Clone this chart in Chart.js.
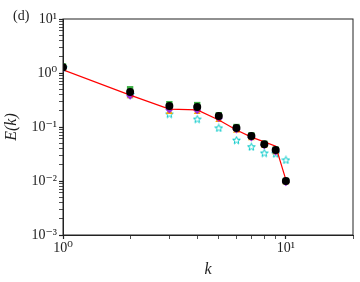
<!DOCTYPE html>
<html>
<head>
<meta charset="utf-8">
<script src="https://cdn.jsdelivr.net/npm/chart.js@4/dist/chart.umd.min.js"></script>
<style>
  html, body { margin: 0; padding: 0; background: #fff; }
  #wrap { width: 360px; height: 282px; }
</style>
</head>
<body>
<div id="wrap"><canvas id="grafico"></canvas></div>
<script>
// wavenumbers and spectra
const ks = [1, 2, 3, 4, 5, 6, 7, 8, 9, 10];
const linhaVermelha = [1.14, 0.39, 0.215, 0.207, 0.135, 0.088, 0.065, 0.053, 0.044, 0.0105];
const pretos   = [1.28, 0.445, 0.245, 0.235, 0.16, 0.096, 0.068, 0.048, 0.0375, 0.0100];
const verdes   = [1.32, 0.50, 0.265, 0.255, 0.165, 0.100, 0.070, 0.049, 0.038, 0.0100];
const roxos    = [1.22, 0.38, 0.21, 0.205, 0.145, 0.090, 0.064, 0.046, 0.035, 0.0095];
const laranjas = [1.20, 0.37, 0.19, 0.19, 0.135, 0.085, 0.062, 0.045, 0.034, 0.0095];
const cianos   = [1.25, 0.40, 0.174, 0.140, 0.096, 0.057, 0.043, 0.033, 0.032, 0.0245];
const ticksX = [1, 2, 3, 4, 5, 6, 7, 8, 9, 10, 20];
const ticksY = [0.001, 0.002, 0.003, 0.004, 0.005, 0.006, 0.007, 0.008, 0.009,
                0.01, 0.02, 0.03, 0.04, 0.05, 0.06, 0.07, 0.08, 0.09,
                0.1, 0.2, 0.3, 0.4, 0.5, 0.6, 0.7, 0.8, 0.9,
                1, 2, 3, 4, 5, 6, 7, 8, 9, 10];
const rotulosX = { 1: '10\u2070', 10: '10\u00b9' };
const rotulosY = { 0.001: '10\u207b\u00b3', 0.01: '10\u207b\u00b2', 0.1: '10\u207b\u00b9', 1: '10\u2070', 10: '10\u00b9' };

const pontos = (ys) => ks.map((k, i) => ({ x: k, y: ys[i] }));

// hollow star like matplotlib's '*' marker
function estrela(cor) {
  const c = document.createElement('canvas');
  c.width = 9; c.height = 9;
  const g = c.getContext('2d');
  g.beginPath();
  for (let i = 0; i < 10; i++) {
    const r = i % 2 === 0 ? 4 : 1.7;
    const a = -Math.PI / 2 + i * Math.PI / 5;
    const px = 4.5 + r * Math.cos(a), py = 4.8 + r * Math.sin(a);
    if (i === 0) g.moveTo(px, py); else g.lineTo(px, py);
  }
  g.closePath();
  g.strokeStyle = cor; g.lineWidth = 1;
  g.stroke();
  return c;
}

const moldura = {
  id: 'moldura',
  afterDraw(chart) {
    const { ctx, chartArea: a } = chart;
    ctx.save();
    ctx.strokeStyle = '#222';
    ctx.lineWidth = 1;
    ctx.strokeRect(a.left, a.top, a.right - a.left, a.bottom - a.top);
    ctx.fillStyle = '#222';
    ctx.font = '14px "Liberation Serif", "DejaVu Serif", serif';
    ctx.textBaseline = 'alphabetic';
    ctx.fillText('(d)', 13, 20);
    ctx.restore();
  }
};

const escalaFonte = { family: '"Liberation Serif", "DejaVu Serif", serif', size: 14 };

new Chart(document.getElementById('grafico'), {
  type: 'scatter',
  data: {
    datasets: [
      { label: 'preto', data: pontos(pretos), pointStyle: 'circle', pointRadius: 4,
        backgroundColor: '#000', borderColor: '#000', borderWidth: 0 },
      { label: 'modelo', data: pontos(linhaVermelha), showLine: true, borderColor: '#ff0000',
        borderWidth: 1.2, pointRadius: 0, backgroundColor: '#ff0000' },
      { label: 'roxo', data: pontos(roxos), pointStyle: 'rectRot', pointRadius: 4,
        backgroundColor: '#9b30d9', borderColor: '#9b30d9', borderWidth: 0 },
      { label: 'laranja', data: pontos(laranjas), pointStyle: 'triangle', pointRadius: 4,
        backgroundColor: '#ffa500', borderColor: '#ffa500', borderWidth: 0 },
      { label: 'ciano', data: pontos(cianos), pointStyle: estrela('#00c8c8'), pointRadius: 4 },
      { label: 'verde', data: pontos(verdes), pointStyle: 'rect', pointRadius: 4.5,
        backgroundColor: '#3cb043', borderColor: '#3cb043', borderWidth: 0 }
    ]
  },
  options: {
    responsive: true,
    maintainAspectRatio: false,
    animation: false,
    layout: { padding: { top: 19, right: 7, left: 2, bottom: 0 } },
    plugins: { legend: { display: false }, tooltip: { enabled: false } },
    scales: {
      x: {
        type: 'logarithmic', min: 1, max: 20,
        afterBuildTicks: (s) => { s.ticks = ticksX.map(v => ({ value: v })); },
        afterFit: (s) => { s.height = 47; },
        border: { display: true, color: '#222', width: 1 },
        grid: { drawOnChartArea: false, color: '#222', tickLength: 4,
                tickWidth: (c) => (c.tick && rotulosX[c.tick.value] ? 1.2 : 0.8) },
        ticks: { autoSkip: false, maxRotation: 0, color: '#222', font: escalaFonte, padding: 1,
                 callback: (v) => rotulosX[v] || '' },
        title: { display: true, text: 'k', color: '#222', padding: { top: 0, bottom: 3 },
                 font: { family: '"Liberation Serif", "DejaVu Serif", serif', size: 16, style: 'italic' } }
      },
      y: {
        type: 'logarithmic', min: 0.001, max: 10,
        afterBuildTicks: (s) => { s.ticks = ticksY.map(v => ({ value: v })); },
        afterFit: (s) => { s.width = 61; },
        border: { display: true, color: '#222', width: 1 },
        grid: { drawOnChartArea: false, color: '#222', tickLength: 4,
                tickWidth: (c) => (c.tick && rotulosY[c.tick.value] ? 1.2 : 0.8) },
        ticks: { autoSkip: false, color: '#222', font: escalaFonte, padding: 2,
                 callback: (v) => rotulosY[v] || '' },
        title: { display: true, text: 'E(k)', color: '#222', padding: { top: 0, bottom: 0 },
                 font: { family: '"Liberation Serif", "DejaVu Serif", serif', size: 16, style: 'italic' } }
      }
    }
  },
  plugins: [moldura]
});
</script>
</body>
</html>
